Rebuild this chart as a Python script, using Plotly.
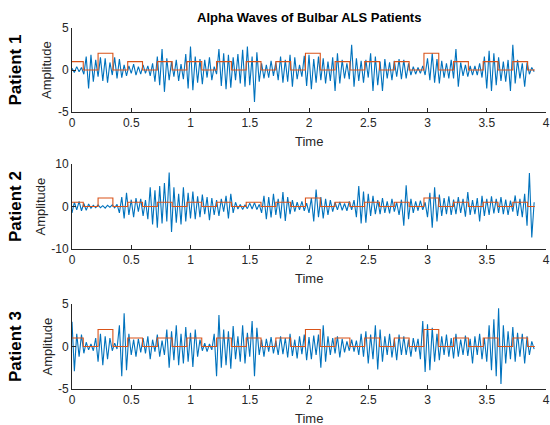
import plotly.graph_objects as go

# ---------------- data ----------------
SAMPLE_STEP = 0.02  # seconds between samples of the traced signal

PATIENT1 = [
    0.2, -0.3, 0.4, -0.2, 0.3, -0.5, 1.6, -2.2, 1.8, -1.4,
    1.2, -0.8, 1.5, -1.3, 1.4, -1.5, 0.9, -0.6, 1.5, -1.0,
    1.3, -0.9, 0.6, -0.7, 0.5, -0.4, 0.7, -0.6, 0.4, -0.5,
    0.6, -0.4, 0.5, -0.7, 0.8, -1.4, 1.6, -1.8, 2.5, -2.6,
    1.4, -1.2, 1.0, -0.8, 1.2, -1.3, 0.7, -1.1, 1.9, -2.2,
    2.8, -2.4, 1.6, -1.5, 1.3, -1.7, 1.2, -0.9, 1.5, -1.2,
    0.4, -0.5, 2.5, -1.9, 2.0, -2.3, 1.8, -2.1, 1.5, -1.2,
    1.9, -1.6, 2.4, -2.0, 2.8, -1.8, 1.6, -3.8, 2.1, -1.4,
    0.8, -1.0, 0.6, -0.9, 1.1, -0.7, 0.9, -1.2, 1.6, -1.5,
    1.2, -1.4, 1.8, -2.0, 1.5, -1.1, 0.6, -0.8, 1.7, -1.9,
    1.8, -2.3, 1.3, -1.5, 1.6, -1.2, 1.4, -1.6, 1.0, -1.3,
    1.5, -2.5, 2.0, -1.6, 1.2, -1.0, 0.8, -1.1, 3.0, -2.0,
    1.4, -1.3, 1.1, -1.5, 1.2, -0.9, 2.0, -2.5, 1.6, -1.8,
    1.0, -2.5, 1.3, -1.0, 0.9, -1.2, 1.1, -0.8, 1.3, -1.1,
    1.2, -1.0, 0.8, -0.6, 0.4, -0.5, 0.3, -0.4, 0.5, -0.6,
    1.4, -1.2, 2.0, -1.5, 1.3, -1.6, 1.1, -0.9, 0.8, -1.0,
    1.2, -1.0, 2.5, -2.0, 0.9, -0.7, 0.6, -0.8, 0.5, -0.6,
    0.5, -0.6, 0.8, -0.9, 1.6, -2.2, 2.3, -2.5, 2.0, -1.8,
    1.5, -1.3, 1.0, -1.4, 1.2, -2.5, 3.0, -1.6, 1.2, -1.0,
    0.8, -2.0, 0.9, -0.5, 0.3, -0.2,
]

PATIENT2 = [
    -1.5, 1.0, -0.8, 1.2, -1.0, 0.7, -0.9, 0.6, -0.4, 0.3,
    -0.3, 0.4, -0.3, 0.2, -0.4, 0.3, -0.2, 0.4, -0.3, 0.5,
    -1.5, 2.2, -2.8, 3.2, -2.0, 1.6, -2.5, 2.0, -1.2, 1.8,
    -2.2, 1.5, -3.0, 4.5, -4.2, 3.8, -5.0, 4.8, -4.0, 5.5,
    -3.5, 8.0, -6.0, 4.5, -3.8, 3.0, -4.2, 4.5, -3.5, 3.2,
    -2.8, 3.5, -3.0, 2.4, -2.5, 2.8, -1.8, 2.2, -3.2, 2.0,
    -2.0, 1.5, -2.2, 1.8, -1.2, 2.5, -2.8, 3.0, -1.5, 1.0,
    -0.6, 0.5, -0.7, 0.4, -0.5, 0.8, -0.6, 0.9, -0.7, 0.5,
    -1.5, 2.5, -3.0, 2.2, -2.6, 3.0, -2.0, 1.8, -2.8, 3.4,
    -3.4, 2.2, -1.8, 1.5, -1.2, 1.0, -0.8, 1.2, -1.0, 0.8,
    -1.5, 2.0, -3.5, 4.0, -2.5, 2.2, -2.8, 1.8, -2.0, 1.5,
    -1.2, 1.0, -0.8, 1.1, -0.9, 0.7, -1.0, 1.2, -0.8, 1.5,
    -2.5, 4.8, -4.0, 3.5, -3.8, 3.0, -2.2, 2.5, -1.8, 1.5,
    -1.8, 2.0, -1.5, 1.2, -1.6, 1.8, -1.2, 1.0, -2.0, 1.6,
    -4.5, 5.0, -3.0, 1.8, -1.5, 1.2, -1.0, 1.4, -0.8, 1.0,
    -2.5, 3.2, -5.0, 4.5, -3.5, 2.8, -2.2, 2.0, -1.8, 2.4,
    -2.0, 1.6, -1.8, 2.2, -1.5, 1.8, -2.4, 3.4, -2.0, 1.5,
    -1.8, 2.0, -3.5, 2.5, -2.2, 1.8, -2.0, 2.4, -1.6, 1.8,
    -1.5, 2.2, -1.8, 1.6, -2.0, 1.4, -1.2, 2.6, -2.2, 1.8,
    -2.5, 3.0, -4.5, 7.9, -7.3, 1.0,
]

PATIENT3 = [
    2.9, -2.9, 1.5, -1.2, 1.4, -0.8, 0.5, -0.4, 0.3, -0.5,
    1.0, -1.8, 1.5, -2.2, 1.2, -1.5, 1.0, -0.5, 0.4, -0.3,
    2.5, -3.5, 3.9, -2.8, 1.5, -1.0, 0.8, -1.2, 0.9, -0.7,
    1.0, -0.8, 1.2, -1.5, 0.8, -0.6, 1.4, -1.2, 0.7, -1.0,
    2.0, -2.5, 1.8, -1.6, 2.5, -2.2, 1.5, -2.0, 2.3, -1.8,
    1.6, -2.4, 2.0, -1.2, 0.8, -0.5, 0.4, -0.6, 0.3, -0.4,
    1.5, -3.5, 3.7, -2.5, 2.0, -2.2, 1.8, -2.6, 2.4, -1.5,
    1.2, -1.8, 2.5, -2.0, 1.6, -1.2, 3.0, -3.5, 2.2, -1.0,
    0.8, -1.2, 0.9, -0.6, 1.1, -0.8, 0.7, -1.0, 1.2, -0.9,
    1.0, -1.3, 1.5, -1.1, 0.8, -1.4, 1.2, -0.9, 1.4, -1.6,
    1.1, -1.5, 1.3, -1.0, 1.4, -2.5, 2.5, -1.8, 1.2, -1.0,
    1.0, -0.8, 1.2, -1.3, 0.9, -0.7, 0.6, -0.5, 0.8, -0.6,
    0.7, -1.0, 1.5, -1.2, 1.8, -2.0, 1.4, -1.5, 2.5, -2.7,
    2.0, -1.8, 1.2, -1.0, 1.5, -1.3, 0.9, -1.6, 1.4, -1.0,
    1.2, -1.0, 0.8, -1.2, 1.0, -0.6, 0.9, -1.5, 3.0, -3.0,
    2.6, -2.8, 2.2, -1.8, 1.5, -1.6, 1.2, -1.0, 1.4, -1.2,
    1.0, -1.4, 1.5, -1.2, 0.8, -1.0, 1.3, -1.1, 0.9, -2.0,
    1.2, -1.0, 1.5, -1.5, 1.0, -1.8, 2.5, -2.8, 3.2, -3.5,
    4.5, -4.4, 2.5, -2.0, 1.8, -1.5, 2.3, -1.8, 1.6, -1.2,
    1.5, -2.0, 1.2, -1.0, 0.6, -0.3,
]

# stimulus (orange stairs): block start times and levels
STEP_TIMES = [0.0, 0.095, 0.22, 0.345, 0.47, 0.595, 0.72, 0.845, 0.97, 1.095,
              1.22, 1.345, 1.47, 1.595, 1.72, 1.845, 1.97, 2.095, 2.22, 2.345,
              2.47, 2.595, 2.72, 2.845, 2.97, 3.095, 3.22, 3.345, 3.47, 3.595,
              3.72, 3.845, 3.906]
STEP_LEVELS = [1, 0, 2, 0, 1, 0, 1, 0, 1, 0,
               1, 0, 1, 0, 1, 0, 2, 0, 1, 0,
               1, 0, 1, 0, 2, 0, 1, 0, 1, 0,
               1, 0, 0]

PANEL_NAMES = ["Patient 1", "Patient 2", "Patient 3"]
Y_LIMITS = [[-5, 5], [-10, 10], [-5, 5]]
Y_TICKS = [[-5, 0, 5], [-10, 0, 10], [-5, 0, 5]]
Y_TICKTEXT = [["-5", "0", "5"], ["-10", "0", "10"], ["-5", "0", "5"]]
X_TICKS = [0, 0.5, 1, 1.5, 2, 2.5, 3, 3.5, 4]
X_TICKTEXT = ["0", "0.5", "1", "1.5", "2", "2.5", "3", "3.5", "4"]
TITLE = "Alpha Waves of Bulbar ALS Patients"

# ---------------- figure ----------------
W, H = 550, 425
BLUE = "#0072BD"
ORANGE = "#D95319"
AXC = "#262626"
FONT = "Arial, 'Liberation Sans', sans-serif"

def px(x):
    return x / W

def py(y):
    return 1 - y / H

# pixel boxes of axes: (top, bottom)
boxes = [(28, 112), (164, 249), (304, 389)]
x_left, x_right = 72, 546
amp_x = [47, 40, 47]

signals = [PATIENT1, PATIENT2, PATIENT3]
fig = go.Figure()
annotations = []

for i, sig in enumerate(signals):
    n = i + 1
    xa = "x" if n == 1 else f"x{n}"
    ya = "y" if n == 1 else f"y{n}"
    t = [k * SAMPLE_STEP for k in range(len(sig))]
    fig.add_trace(go.Scatter(x=t, y=sig, mode="lines",
                             line=dict(color=BLUE, width=1.1),
                             xaxis=xa, yaxis=ya, showlegend=False, hoverinfo="skip"))
    fig.add_trace(go.Scatter(x=STEP_TIMES, y=STEP_LEVELS, mode="lines",
                             line=dict(color=ORANGE, width=1.1, shape="hv"),
                             xaxis=xa, yaxis=ya, showlegend=False, hoverinfo="skip"))
    top, bot = boxes[i]
    common = dict(showline=True, linecolor=AXC, linewidth=1, ticks="inside",
                  ticklen=4, tickwidth=1, tickcolor=AXC, showgrid=False,
                  zeroline=False, mirror=False, automargin=False,
                  tickfont=dict(family=FONT, size=12, color=AXC))
    fig.update_layout(**{
        ("xaxis" if n == 1 else f"xaxis{n}"): dict(
            domain=[px(x_left), px(x_right)], range=[0, 4], anchor=ya,
            tickmode="array", tickvals=X_TICKS, ticktext=X_TICKTEXT, **common),
        ("yaxis" if n == 1 else f"yaxis{n}"): dict(
            domain=[py(bot), py(top)], range=Y_LIMITS[i], anchor=xa,
            tickmode="array", tickvals=Y_TICKS[i], ticktext=Y_TICKTEXT[i], **common),
    })
    cy = (top + bot) / 2
    annotations.append(dict(x=px(15.5), y=py(cy), xref="paper", yref="paper",
                            text=f"<b>{PANEL_NAMES[i]}</b>", textangle=-90,
                            showarrow=False, xanchor="center", yanchor="middle",
                            font=dict(family=FONT, size=17, color="black")))
    annotations.append(dict(x=px(amp_x[i]), y=py(cy), xref="paper", yref="paper",
                            text="Amplitude", textangle=-90,
                            showarrow=False, xanchor="center", yanchor="middle",
                            font=dict(family=FONT, size=13, color=AXC)))
    annotations.append(dict(x=px((x_left + x_right) / 2), y=py(bot + 29),
                            xref="paper", yref="paper", text="Time",
                            showarrow=False, xanchor="center", yanchor="middle",
                            font=dict(family=FONT, size=13, color=AXC)))

annotations.append(dict(x=px(309), y=py(17), xref="paper", yref="paper",
                        text=f"<b>{TITLE}</b>", showarrow=False,
                        xanchor="center", yanchor="middle",
                        font=dict(family=FONT, size=13, color="black")))

fig.update_layout(template="none", width=W, height=H, autosize=False,
                  margin=dict(l=0, r=0, t=0, b=0, pad=0),
                  paper_bgcolor="white", plot_bgcolor="white",
                  annotations=annotations, showlegend=False)

fig.write_html("out.html")
